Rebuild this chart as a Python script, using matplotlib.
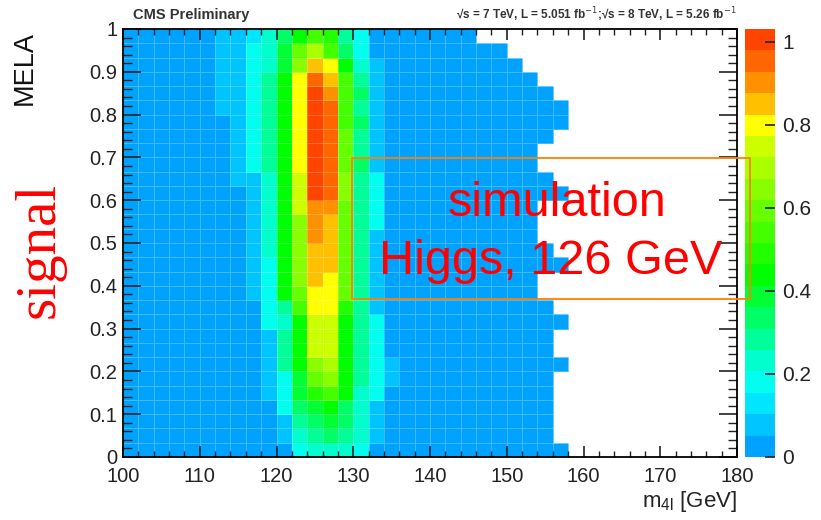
import numpy as np
import matplotlib.pyplot as plt
from matplotlib.colors import ListedColormap, BoundaryNorm
from matplotlib.patches import Rectangle
from matplotlib.ticker import MultipleLocator, FormatStrFormatter

plt.rcParams['font.family'] = ['Liberation Sans', 'DejaVu Sans']

# binning: m4l 100-180 GeV in 2 GeV bins, MELA 0-1 in 30 bins
m4l_lo, m4l_hi, m4l_bin = 100, 180, 2
n_mela = 30
z_max = 1.031

# upper edge (GeV) of the last filled bin of each MELA row, top row first
row_end = [146, 150, 152, 154, 156, 158, 158, 156, 154, 154,
           156, 158, 154, 154, 154, 156, 158, 154, 154, 156,
           158, 156, 156, 158, 156, 156, 156, 156, 156, 158]

# value of the lowest (blue) level in the filled region
base_level = 0.03

# peak region, bins 110-138 GeV, top row first
core_start = 110
core = [
    [0.03, 0.08, 0.08, 0.13, 0.23, 0.34, 0.44, 0.54, 0.49, 0.28, 0.18, 0.03, 0.03, 0.03],
    [0.03, 0.08, 0.08, 0.18, 0.23, 0.39, 0.59, 0.70, 0.54, 0.34, 0.18, 0.03, 0.03, 0.03],
    [0.03, 0.08, 0.08, 0.18, 0.23, 0.39, 0.65, 0.85, 0.80, 0.44, 0.23, 0.08, 0.03, 0.03],
    [0.03, 0.08, 0.08, 0.18, 0.28, 0.44, 0.80, 0.95, 0.85, 0.54, 0.28, 0.08, 0.03, 0.03],
    [0.03, 0.08, 0.08, 0.18, 0.28, 0.44, 0.80, 1.00, 0.90, 0.54, 0.34, 0.08, 0.03, 0.03],
    [0.03, 0.08, 0.08, 0.18, 0.28, 0.44, 0.80, 1.00, 0.95, 0.54, 0.28, 0.08, 0.03, 0.03],
    [0.03, 0.03, 0.08, 0.18, 0.28, 0.44, 0.80, 1.00, 0.95, 0.54, 0.34, 0.08, 0.03, 0.03],
    [0.03, 0.03, 0.08, 0.18, 0.28, 0.44, 0.80, 1.00, 0.95, 0.59, 0.28, 0.08, 0.03, 0.03],
    [0.03, 0.03, 0.08, 0.18, 0.28, 0.44, 0.80, 1.00, 0.95, 0.59, 0.28, 0.08, 0.03, 0.03],
    [0.03, 0.03, 0.08, 0.18, 0.28, 0.44, 0.80, 1.00, 0.95, 0.59, 0.34, 0.08, 0.03, 0.03],
    [0.03, 0.03, 0.08, 0.08, 0.23, 0.44, 0.75, 1.00, 0.95, 0.65, 0.28, 0.18, 0.03, 0.03],
    [0.03, 0.03, 0.03, 0.08, 0.23, 0.44, 0.75, 1.00, 0.95, 0.65, 0.28, 0.18, 0.03, 0.03],
    [0.03, 0.03, 0.03, 0.08, 0.23, 0.44, 0.75, 0.90, 0.90, 0.59, 0.28, 0.18, 0.03, 0.03],
    [0.03, 0.03, 0.03, 0.08, 0.23, 0.44, 0.65, 0.90, 0.85, 0.59, 0.28, 0.18, 0.03, 0.03],
    [0.03, 0.03, 0.03, 0.08, 0.23, 0.44, 0.65, 0.90, 0.85, 0.59, 0.28, 0.08, 0.03, 0.03],
    [0.03, 0.03, 0.03, 0.08, 0.23, 0.44, 0.65, 0.85, 0.85, 0.59, 0.28, 0.08, 0.03, 0.03],
    [0.03, 0.03, 0.03, 0.08, 0.18, 0.44, 0.65, 0.85, 0.85, 0.59, 0.28, 0.08, 0.03, 0.03],
    [0.03, 0.03, 0.03, 0.08, 0.18, 0.44, 0.65, 0.85, 0.80, 0.59, 0.28, 0.08, 0.03, 0.03],
    [0.03, 0.03, 0.03, 0.08, 0.18, 0.44, 0.59, 0.80, 0.80, 0.59, 0.28, 0.08, 0.03, 0.03],
    [0.03, 0.03, 0.03, 0.03, 0.18, 0.28, 0.54, 0.80, 0.80, 0.49, 0.28, 0.08, 0.03, 0.03],
    [0.03, 0.03, 0.03, 0.03, 0.18, 0.23, 0.44, 0.75, 0.75, 0.44, 0.28, 0.18, 0.03, 0.03],
    [0.03, 0.03, 0.03, 0.03, 0.08, 0.28, 0.44, 0.75, 0.75, 0.44, 0.28, 0.18, 0.03, 0.03],
    [0.03, 0.03, 0.03, 0.03, 0.08, 0.28, 0.44, 0.75, 0.75, 0.44, 0.28, 0.18, 0.03, 0.03],
    [0.03, 0.03, 0.03, 0.03, 0.08, 0.28, 0.44, 0.65, 0.70, 0.44, 0.28, 0.18, 0.08, 0.03],
    [0.03, 0.03, 0.03, 0.03, 0.08, 0.18, 0.39, 0.59, 0.65, 0.44, 0.28, 0.18, 0.08, 0.03],
    [0.03, 0.03, 0.03, 0.03, 0.08, 0.18, 0.39, 0.49, 0.54, 0.44, 0.23, 0.18, 0.03, 0.03],
    [0.03, 0.03, 0.03, 0.03, 0.03, 0.18, 0.34, 0.39, 0.44, 0.34, 0.23, 0.08, 0.03, 0.03],
    [0.03, 0.03, 0.03, 0.03, 0.03, 0.08, 0.28, 0.34, 0.39, 0.34, 0.23, 0.08, 0.03, 0.03],
    [0.03, 0.03, 0.03, 0.03, 0.03, 0.08, 0.23, 0.28, 0.34, 0.28, 0.23, 0.08, 0.03, 0.03],
    [0.03, 0.03, 0.03, 0.03, 0.03, 0.03, 0.18, 0.23, 0.23, 0.23, 0.18, 0.03, 0.03, 0.03],
]

palette = ['#00a2ff', '#00c4ff', '#00e6ff', '#00ffee', '#00ffcc', '#00ff99',
           '#00ff66', '#00ff33', '#00ff00', '#22ff00', '#44ff00', '#66ff00',
           '#88ff00', '#aaff00', '#ccff00', '#ffff00', '#ffc000', '#ff9000',
           '#ff6600', '#ff4400']

# build the histogram (row 0 = lowest MELA bin)
x_edges = np.arange(m4l_lo, m4l_hi + m4l_bin, m4l_bin)
y_edges = np.linspace(0, 1, n_mela + 1)
hist = np.zeros((n_mela, len(x_edges) - 1))
for r, (end, vals) in enumerate(zip(row_end[::-1], core[::-1])):
    hist[r, :(end - m4l_lo) // m4l_bin] = base_level
    c0 = (core_start - m4l_lo) // m4l_bin
    hist[r, c0:c0 + len(vals)] = vals
hist = np.ma.masked_equal(hist, 0)

cmap = ListedColormap(palette)
norm = BoundaryNorm(np.linspace(0, z_max, len(palette) + 1), len(palette))

W, H = 821, 520
fig = plt.figure(figsize=(W / 100, H / 100), dpi=100)
ax = fig.add_axes([123 / W, 63 / H, 614 / W, 428 / H])
mesh = ax.pcolormesh(x_edges, y_edges, hist, cmap=cmap, norm=norm,
                     edgecolors=(1, 1, 1, 0.25), linewidth=0.6)
ax.set_xlim(m4l_lo, m4l_hi)
ax.set_ylim(0, 1)

ax.set_xticks(np.arange(100, 181, 10))
ax.set_yticks(np.arange(0, 1.01, 0.1))
ax.xaxis.set_minor_locator(MultipleLocator(2))
ax.yaxis.set_minor_locator(MultipleLocator(0.02))
ax.yaxis.set_major_formatter(FormatStrFormatter('%g'))
ax.tick_params(which='both', direction='in', top=True, right=True, colors='#222222',
               labelcolor='#222222', labelsize=14.5)
ax.tick_params(axis='x', which='major', length=8, width=1.2, pad=7.5)
ax.tick_params(axis='x', which='minor', length=4.5, width=1)
ax.tick_params(axis='y', which='major', length=13, width=1.2, pad=4)
ax.tick_params(axis='y', which='minor', length=6.5, width=1)
for s in ax.spines.values():
    s.set_linewidth(1.3)

cax = fig.add_axes([745 / W, 63 / H, 30 / W, 428 / H])
cb = fig.colorbar(mesh, cax=cax, ticks=[0, 0.2, 0.4, 0.6, 0.8, 1.0])
cb.ax.set_yticklabels(['0', '0.2', '0.4', '0.6', '0.8', '1'])
cb.ax.tick_params(direction='in', length=7, width=1.2, labelsize=15, pad=5,
                  colors='#222222')
cb.outline.set_linewidth(0)
cb.ax.minorticks_off()

fig.text(133 / W, 1 - 15 / H, 'CMS Preliminary', fontsize=10.5, fontweight='bold',
         color='#333333', va='center', ha='left')
fig.text(737 / W, 1 - 15 / H,
         '√s = 7 TeV, L = 5.051 fb$^{-1}$;√s = 8 TeV, L = 5.26 fb$^{-1}$',
         fontsize=8.5, fontweight='bold', color='#333333', va='center', ha='right')

fig.text(25 / W, 1 - 68 / H, 'MELA', rotation=90, fontsize=19.5, color='#111111',
         ha='center', va='center')
fig.text(737 / W, 1 - 502 / H, 'm$_{\\mathregular{4l}}$ [GeV]', fontsize=16,
         color='#222222', ha='right', va='center')

fig.text(40 / W, 1 - 250 / H, 'signal', rotation=90, fontsize=41, color='red',
         family=['Liberation Serif', 'DejaVu Serif'], ha='center', va='center')

fig.patches.append(Rectangle((352 / W, 1 - 299 / H), 398 / W, 141 / H,
                             transform=fig.transFigure, fill=False,
                             edgecolor='#ff8000', linewidth=1.3))
fig.text(557 / W, 1 - 203 / H, 'simulation', fontsize=35, color='red',
         ha='center', va='center')
fig.text(551 / W, 1 - 262 / H, 'Higgs, 126 GeV', fontsize=35, color='red',
         ha='center', va='center')

fig.savefig('out.png', dpi=100)
